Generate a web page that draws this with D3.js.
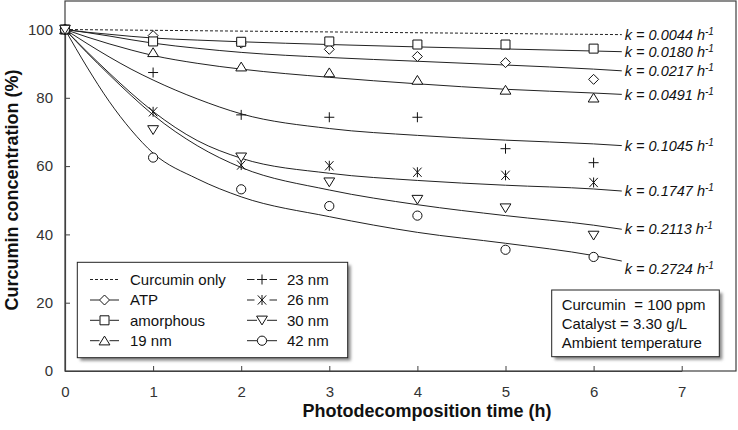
<!DOCTYPE html>
<html>
<head>
<meta charset="utf-8">
<script src="https://cdn.jsdelivr.net/npm/d3@7"></script>
<style>
  body { margin: 0; background: #fff; }
  text { font-family: "Liberation Sans", Arial, sans-serif; }
</style>
</head>
<body>
<script>
const width = 738;
const height = 430;

// measured points (%)
const times = [0, 1, 2, 3, 4, 5, 6];
const atp       = [100, 98.2, 96.0, 94.2, 92.1, 90.3, 85.4];
const amorphous = [100, 96.5, 96.4, 96.5, 95.6, 95.6, 94.4];
const nm19      = [100, 93.3, 89.1, 87.4, 85.2, 82.3, 80.0];
const nm23      = [100, 87.4, 75.0, 74.3, 74.3, 65.1, 61.0];
const nm26      = [100, 75.9, 60.3, 60.1, 58.2, 57.3, 55.2];
const nm30      = [100, 70.6, 62.6, 55.3, 50.2, 47.7, 39.7];
const nm42      = [100, 62.5, 53.2, 48.3, 45.5, 35.5, 33.4];

// fitted curves
const fitTimes = [0, 0.25, 0.5, 0.75, 1, 1.5, 2, 3, 4, 5, 6, 6.32];
const dashTimes = [0, 6.32];
const fitCurcumin  = [100, 98.5];
const fitAmorphous = [100, 99.2, 98.6, 98.0, 97.5, 96.9, 96.4, 95.6, 94.9, 94.3, 93.7, 93.5];
const fitAtp       = [100, 99.1, 98.1, 97.0, 96.0, 94.5, 93.3, 91.8, 90.7, 89.6, 88.4, 87.9];
const fit19        = [100, 97.8, 95.8, 94.0, 92.4, 90.1, 88.4, 86.0, 84.1, 82.5, 81.4, 81.0];
const fit23        = [100, 95.9, 92.0, 88.4, 85.2, 79.7, 75.3, 71.0, 69.0, 67.6, 66.5, 66.0];
const fit26        = [100, 93.5, 87.3, 81.4, 76.0, 67.5, 62.3, 57.9, 55.8, 54.4, 53.3, 52.7];
const fit30        = [100, 93.2, 86.8, 80.7, 75.0, 66.0, 59.6, 53.0, 48.7, 45.5, 42.7, 41.5];
const fit42        = [100, 89.0, 79.0, 70.6, 63.8, 56.3, 51.0, 45.2, 40.6, 37.4, 33.8, 32.2];

const kLabels = ['0.0044', '0.0180', '0.0217', '0.0491', '0.1045', '0.1747', '0.2113', '0.2724'];
const xTicks = [0, 1, 2, 3, 4, 5, 6, 7];
const yTicks = [0, 20, 40, 60, 80, 100];

const legendLeft = ['Curcumin only', 'ATP', 'amorphous', '19 nm'];
const legendRight = ['23 nm', '26 nm', '30 nm', '42 nm'];
const infoLines = ['Curcumin  = 100 ppm', 'Catalyst = 3.30 g/L', 'Ambient temperature'];

const svg = d3.select('body').append('svg').attr('width', width).attr('height', height);

const defs = svg.append('defs');
defs.append('filter').attr('id', 'shadow')
    .attr('x', '-10%').attr('y', '-10%').attr('width', '130%').attr('height', '140%')
    .append('feGaussianBlur').attr('stdDeviation', 1.4);

const x = d3.scaleLinear().domain([0, 7]).range([65, 681.7]);
const y = d3.scaleLinear().domain([0, 100]).range([371, 29.5]);

// plot frame
svg.append('rect')
    .attr('x', 65).attr('y', 1)
    .attr('width', 736 - 65).attr('height', 370)
    .attr('fill', 'none').attr('stroke', '#404040').attr('stroke-width', 1.2);

const xAxis = svg.append('g')
    .attr('transform', `translate(0,${y(0)})`)
    .call(d3.axisBottom(x).tickValues(xTicks).tickFormat(d3.format('d'))
        .tickSizeInner(-5).tickSizeOuter(0).tickPadding(15));
const yAxis = svg.append('g')
    .attr('transform', `translate(${x(0)},0)`)
    .call(d3.axisLeft(y).tickValues(yTicks).tickFormat(d3.format('d'))
        .tickSizeInner(-5).tickSizeOuter(0).tickPadding(12));

[xAxis, yAxis].forEach(ax => {
    ax.select('.domain').attr('stroke', '#404040').attr('stroke-width', 1.2);
    ax.selectAll('.tick line').attr('stroke', '#404040');
    ax.selectAll('.tick text')
        .attr('font-family', '"Liberation Sans", Arial, sans-serif')
        .attr('font-size', 15).attr('fill', '#333');
});

svg.append('text')
    .attr('x', 427).attr('y', 417)
    .attr('text-anchor', 'middle')
    .attr('font-size', 18).attr('font-weight', 'bold').attr('fill', '#111')
    .text('Photodecomposition time (h)');

svg.append('text')
    .attr('transform', 'translate(18,190) rotate(-90)')
    .attr('text-anchor', 'middle')
    .attr('font-size', 18).attr('font-weight', 'bold').attr('fill', '#111')
    .text('Curcumin concentration (%)');

// fitted curves
const curves = [
    { t: dashTimes, v: fitCurcumin, dash: '3,2' },
    { t: fitTimes, v: fitAmorphous },
    { t: fitTimes, v: fitAtp },
    { t: fitTimes, v: fit19 },
    { t: fitTimes, v: fit23 },
    { t: fitTimes, v: fit26 },
    { t: fitTimes, v: fit30 },
    { t: fitTimes, v: fit42, labelShift: 8 }
];

const line = d3.line()
    .x(d => x(d[0]))
    .y(d => y(d[1]))
    .curve(d3.curveMonotoneX);

curves.forEach((c, i) => {
    const pts = c.t.map((t, j) => [t, c.v[j]]);
    svg.append('path')
        .attr('d', line(pts))
        .attr('fill', 'none')
        .attr('stroke', '#222')
        .attr('stroke-width', 1)
        .attr('stroke-dasharray', c.dash || null);

    const last = pts[pts.length - 1];
    const label = svg.append('text')
        .attr('x', x(last[0]) + 3)
        .attr('y', y(last[1]) + (c.labelShift || 0))
        .attr('dy', '0.36em')
        .attr('font-size', 14.5).attr('font-style', 'italic').attr('fill', '#111');
    label.append('tspan').text(`k = ${kLabels[i]} h`);
    label.append('tspan').attr('dy', -5).attr('font-size', 10).text('-1');
});

// markers
const markerPath = {
    diamond: 'M0,-5L5,0L0,5L-5,0Z',
    square: 'M-4.5,-4.5H4.5V4.5H-4.5Z',
    triangle: 'M0,-4.6L5.4,4.2H-5.4Z',
    triangleDown: 'M-5.4,-4.2H5.4L0,4.6Z',
    circle: 'M4.6,0A4.6,4.6 0 1,1 -4.6,0A4.6,4.6 0 1,1 4.6,0Z',
    plus: 'M-5,0H5M0,-5V5',
    star: 'M-4.2,-4.6L4.2,4.6M4.2,-4.6L-4.2,4.6M0,-5V5'
};

const seriesList = [
    { vals: atp, m: 'diamond' },
    { vals: amorphous, m: 'square' },
    { vals: nm19, m: 'triangle' },
    { vals: nm23, m: 'plus' },
    { vals: nm26, m: 'star' },
    { vals: nm42, m: 'circle' },
    { vals: nm30, m: 'triangleDown' }
];

function drawMarker(sel, type) {
    return sel.append('path')
        .attr('d', markerPath[type])
        .attr('fill', (type === 'plus' || type === 'star') ? 'none' : '#fff')
        .attr('stroke', '#111')
        .attr('stroke-width', 1);
}

seriesList.forEach(s => {
    const g = svg.append('g');
    times.forEach((t, j) => {
        const mg = g.append('g').attr('transform', `translate(${x(t)},${y(s.vals[j])})`);
        drawMarker(mg, s.m);
    });
});

// boxes with shadow
function box(bx, by, bw, bh) {
    svg.append('rect')
        .attr('x', bx + 3).attr('y', by + 3).attr('width', bw).attr('height', bh)
        .attr('fill', '#8a8a8a').attr('filter', 'url(#shadow)');
    svg.append('rect')
        .attr('x', bx).attr('y', by).attr('width', bw).attr('height', bh)
        .attr('fill', '#fff').attr('stroke', '#222').attr('stroke-width', 1);
}

// legend
box(77.3, 262.3, 270.4, 95.4);
const rowY = [279.5, 300, 320.3, 340.7];
const leftMarkers = [null, 'diamond', 'square', 'triangle'];
const rightMarkers = ['plus', 'star', 'triangleDown', 'circle'];

function legendItem(x0, x1, cy, type, label, textX) {
    const cx = (x0 + x1) / 2;
    if (!type) {
        svg.append('line')
            .attr('x1', x0).attr('x2', x1).attr('y1', cy).attr('y2', cy)
            .attr('stroke', '#222').attr('stroke-dasharray', '3,2');
    } else {
        const gap = (type === 'plus' || type === 'star') ? 7.5 : 5;
        svg.append('line').attr('x1', x0).attr('x2', cx - gap).attr('y1', cy).attr('y2', cy).attr('stroke', '#222');
        svg.append('line').attr('x1', cx + gap).attr('x2', x1).attr('y1', cy).attr('y2', cy).attr('stroke', '#222');
        drawMarker(svg.append('g').attr('transform', `translate(${cx},${cy})`), type);
    }
    svg.append('text')
        .attr('x', textX).attr('y', cy).attr('dy', '0.36em')
        .attr('font-size', 15).attr('fill', '#111')
        .attr('xml:space', 'preserve')
        .text(label);
}

legendLeft.forEach((l, i) => legendItem(90, 119, rowY[i], leftMarkers[i], l, 130));
legendRight.forEach((l, i) => legendItem(247, 277, rowY[i], rightMarkers[i], l, 287));

// conditions box
box(551.7, 290, 167.6, 66.7);
const infoY = [305, 324, 342.7];
infoLines.forEach((l, i) => {
    svg.append('text')
        .attr('x', 561.7).attr('y', infoY[i]).attr('dy', '0.36em')
        .attr('font-size', 15).attr('fill', '#111')
        .attr('xml:space', 'preserve')
        .text(l);
});
</script>
</body>
</html>
